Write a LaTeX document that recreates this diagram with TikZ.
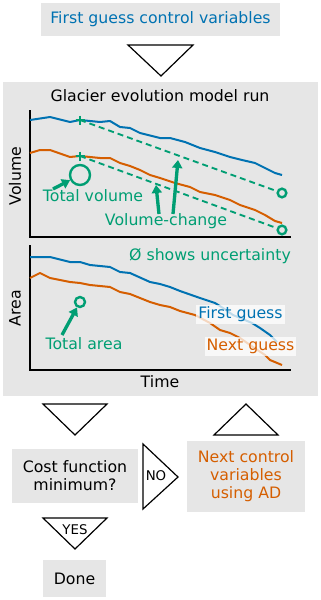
\documentclass[tikz,border=0pt]{standalone}
\usepackage{fontspec}
\setmainfont{DejaVu Sans}
\usetikzlibrary{arrows.meta}
\definecolor{cblue}{HTML}{0072B2}
\definecolor{corange}{HTML}{D55E00}
\definecolor{cgreen}{HTML}{009E73}
\definecolor{panel}{HTML}{E6E6E6}
\begin{document}
\begin{tikzpicture}[x=0.75pt,y=-0.75pt,
  box/.style={fill=panel,inner sep=0pt,align=center,font=\fontsize{11.8}{13.5}\selectfont},
  txt/.style={inner sep=0pt,font=\fontsize{11.8}{13.5}\selectfont},
  small/.style={inner sep=0pt,font=\fontsize{10}{11}\selectfont},
  tri/.style={draw=black,line width=0.9pt,fill=white,line join=miter},
  curve/.style={line width=1.5pt,line join=round},
  axis/.style={line width=0.8pt},
  guide/.style={cgreen,line width=1.4pt,dash pattern=on 4.5pt off 3pt},
  ring/.style={cgreen,line width=1.8pt},
  pointer/.style={cgreen,line width=2.5pt,-{Triangle[length=6pt,width=7.5pt]}},
  legend/.style={fill=white,fill opacity=0.75,text opacity=1,inner sep=1.5pt,font=\fontsize{11.8}{13.5}\selectfont}]
\useasboundingbox (0,0) rectangle (321,600);
\node (first) [box,minimum width=179.25pt,minimum height=24.75pt,text=cblue] at (160.5,19.5) {First guess control variables};
\draw [tri] (128,45) -- (193,45) -- (161,76) -- cycle;
\fill [panel] (3,82) rectangle (318,396);
\node (title) [txt] at (160,96) {Glacier evolution model run};
\draw [axis] (30,110) -- (30,237) -- (291,237);
\node (vol) [txt,rotate=90] at (15,176) {Volume};
\draw [curve,cblue] plot coordinates {(30,120) (50,117) (70,122) (80,120) (100,122) (110,121) (120,127) (130,128) (140,133) (160,138) (170,138) (185,142) (200,148) (215,152) (230,157) (242,160) (255,163) (265,168) (275,173) (282,175)};
\draw [curve,corange] plot coordinates {(30,153) (40,150) (50,150) (70,157) (80,156) (100,158) (110,158) (120,163) (130,166) (140,170) (150,175) (160,178) (175,183) (190,187) (200,192) (215,195) (230,200) (240,205) (255,210) (265,215) (275,221) (282,223)};
\coordinate (up0) at (80,120);
\coordinate (lo0) at (80,156);
\node (up1) [ring,draw,circle,minimum size=6.5pt,inner sep=0pt] at (282,193) {};
\node (lo1) [ring,draw,circle,minimum size=6.5pt,inner sep=0pt] at (282,230) {};
\draw [guide] (up0) -- (up1);
\draw [guide] (lo0) -- (lo1);
\draw [ring] (up0) ++(-4.5,0) -- ++(9,0) ++(-4.5,-4.5) -- ++(0,9);
\draw [ring] (lo0) ++(-4.5,0) -- ++(9,0) ++(-4.5,-4.5) -- ++(0,9);
\node (totv) [ring,draw,circle,minimum size=15pt,inner sep=0pt] at (80,175) {};
\node (totvtxt) [txt,text=cgreen] at (93,196) {Total volume};
\draw [pointer] (53,189) -- (totv);
\node (dvtxt) [txt,text=cgreen] at (166,221) {Volume-change};
\draw [pointer] (159,214) -- (156,185);
\draw [pointer] (173,214) -- (178,160);
\draw [axis] (30,245) -- (30,370) -- (291,370);
\node (area) [txt,rotate=90] at (15,308) {Area};
\node (time) [txt] at (160,382) {Time};
\node (unc) [txt,text=cgreen] at (210,256) {Ø shows uncertainty};
\draw [curve,cblue] plot coordinates {(30,257) (50,257) (70,262) (80,262) (90,265) (110,267) (120,272) (130,273) (150,282) (160,284) (170,287) (180,291) (200,298) (215,303) (223,308) (233,315) (252,323) (260,328) (270,335) (277,342)};
\draw [curve,corange] plot coordinates {(30,278) (40,273) (50,278) (70,282) (80,283) (90,285) (110,287) (120,292) (130,294) (150,302) (160,305) (170,307) (180,311) (195,315) (210,323) (220,330) (230,333) (240,338) (253,347) (265,355) (270,360) (282,365)};
\node (tota) [ring,draw,circle,minimum size=7.5pt,inner sep=0pt] at (80,302) {};
\node (totatxt) [txt,text=cgreen] at (84,344) {Total area};
\draw [pointer] (62,335) -- (tota);
\node (fg) [legend,text=cblue] at (240.5,314.5) {First guess};
\node (ng) [legend,text=corange] at (250.5,346.5) {Next guess};
\draw [tri] (43,404) -- (107,404) -- (75,435) -- cycle;
\draw [tri] (214,435) -- (278,435) -- (246,404) -- cycle;
\node (cost) [box,minimum width=94.5pt,minimum height=40.5pt] at (75,476) {Cost function\\minimum?};
\node (next) [box,minimum width=88.5pt,minimum height=53.25pt,text=corange] at (246,476.5) {Next control\\variables\\using AD};
\draw [tri] (143,444) -- (178,477) -- (143,509) -- cycle;
\node (no) [small] at (156,476) {NO};
\draw [tri] (43,518) -- (107,518) -- (75,549) -- cycle;
\node (yes) [small] at (75,530) {YES};
\node (done) [box,minimum width=47.25pt,minimum height=27.75pt] at (74.5,578.5) {Done};
\end{tikzpicture}
\end{document}
